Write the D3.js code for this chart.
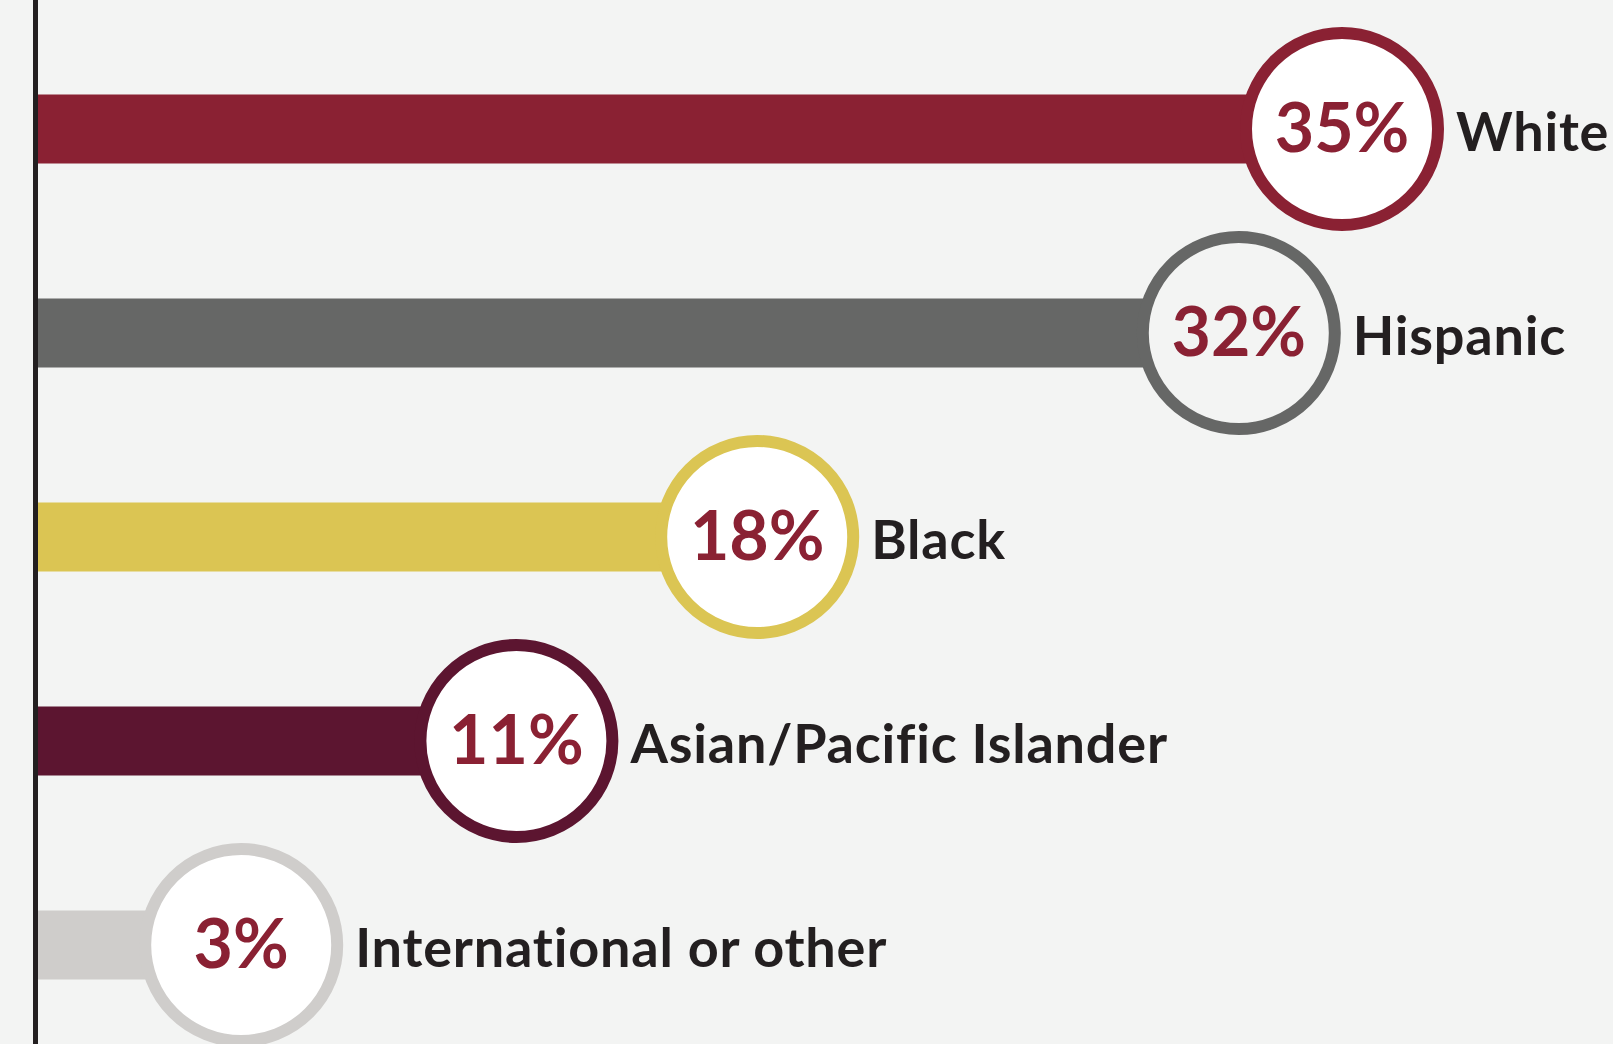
<!DOCTYPE html>
<html>
<head>
<meta charset="utf-8">
<script src="https://cdn.jsdelivr.net/npm/d3@7"></script>
<style>
html,body{margin:0;padding:0;background:#f3f4f3;}
svg{display:block;}
text{font-variant-ligatures:none;}
</style>
</head>
<body>
<svg id="chart" width="1613" height="1044"></svg>
<script>
var groups = ["White","Hispanic","Black","Asian/Pacific Islander","International or other"];
var shares = [35,32,18,11,3];
var barColors = ["#8a2133","#666766","#dbc553","#5c1530","#cfcdcb"];
var circleFills = ["#ffffff","#f3f4f3","#ffffff","#ffffff","#ffffff"];

var width=1613,height=1044,axisX=35.5,barH=69,radius=96;

var svg=d3.select("#chart");

var yScale=d3.scalePoint()
	.domain(groups)
	.range([129,945]);

var xScale=d3.scaleLinear()
	.domain([0,35])
	.range([138,1342]);

var color=d3.scaleOrdinal().domain(groups).range(barColors);
var fill=d3.scaleOrdinal().domain(groups).range(circleFills);

var rows=svg.selectAll("g.row")
	.data(groups)
	.enter().append("g")
	.attr("class","row")
	.attr("transform",d=>"translate(0,"+yScale(d)+")");

rows.append("rect")
	.attr("x",axisX+2)
	.attr("y",-barH/2)
	.attr("height",barH)
	.attr("width",(d,i)=>xScale(shares[i])-axisX-2)
	.attr("fill",d=>color(d));

rows.append("circle")
	.attr("cx",(d,i)=>xScale(shares[i]))
	.attr("cy",0)
	.attr("r",radius)
	.attr("fill",d=>fill(d))
	.attr("stroke",d=>color(d))
	.attr("stroke-width",12);

rows.append("text")
	.attr("x",(d,i)=>xScale(shares[i]))
	.attr("y",23)
	.attr("text-anchor","middle")
	.attr("font-family","Lato, 'Open Sans', sans-serif")
	.attr("font-weight",700)
	.attr("font-size",68)
	.attr("fill","#8a2133")
	.text((d,i)=>shares[i]+"%");

rows.append("text")
	.attr("x",(d,i)=>xScale(shares[i])+radius+18)
	.attr("y",22)
	.attr("font-family","Lato, 'Open Sans', sans-serif")
	.attr("font-weight",700)
	.attr("font-size",54)
	.attr("letter-spacing",0.8)
	.attr("fill","#231f20")
	.text(d=>d);

// vertical axis line on the left
svg.append("line")
	.attr("x1",axisX).attr("x2",axisX)
	.attr("y1",0).attr("y2",height)
	.attr("stroke","#231f20")
	.attr("stroke-width",5);
</script>
</body>
</html>
